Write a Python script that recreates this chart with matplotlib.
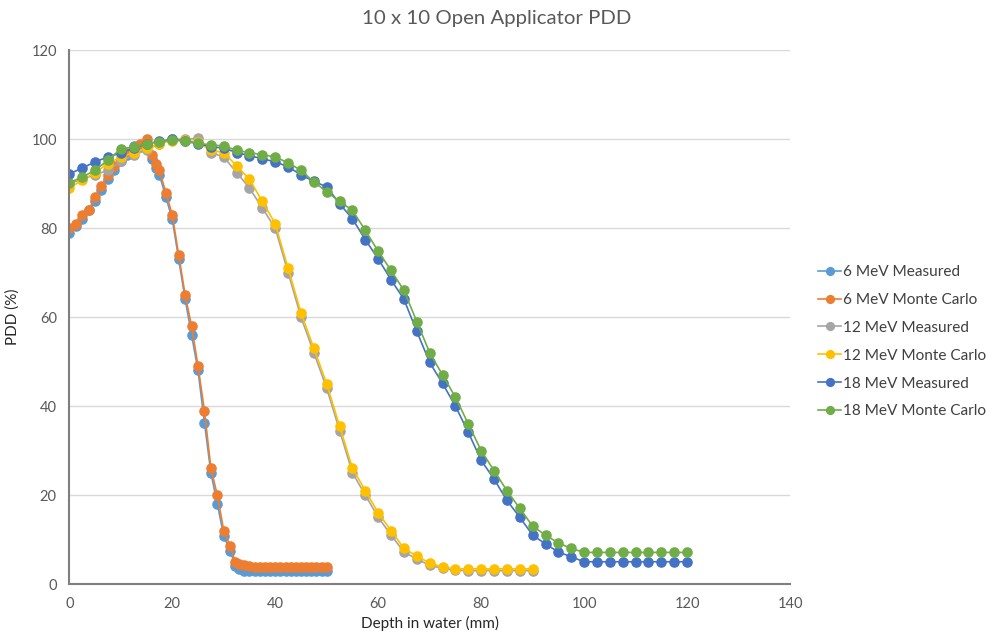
import matplotlib.pyplot as plt

# depth grids (mm)
depth_6 = [0, 1.25, 2.5, 3.75, 5, 6.25, 7.5, 8.75, 10, 11.25, 12.5, 13.75, 15, 16, 16.75,
           17.5, 18.75, 20, 21.25, 22.5, 23.75, 25, 26.25, 27.5, 28.75, 30, 31.25, 32.25, 33,
           34, 35, 36, 37, 38, 39, 40, 41, 42, 43, 44, 45, 46, 47, 48, 49, 50]
depth_12 = [i * 2.5 for i in range(37)]
depth_18 = [i * 2.5 for i in range(49)]

# 6 MeV
pdd_6_meas = [79, 80.5, 82, 84, 86, 88.5, 91, 93, 95, 96.5, 98.5, 98.5, 99, 95.5, 93.5,
              92, 87, 82, 73, 64, 56, 48, 36.3, 25, 18, 10.8, 7.5, 4, 3.3,
              3, 2.9, 2.9, 2.9, 2.9, 2.9, 2.9, 2.9, 2.9, 2.9, 2.9, 2.9, 2.9, 2.9, 2.9, 2.9, 2.9]
pdd_6_mc = [80, 81, 83, 84, 87, 89.5, 92, 94, 95.5, 97, 98, 99, 100, 96.5, 94.5,
            93, 88, 83, 74, 65, 58, 49, 39, 26, 20, 12, 8.5, 5, 4.5,
            4.2, 4, 3.9, 3.9, 3.9, 3.9, 3.9, 3.9, 3.9, 3.9, 3.9, 3.9, 3.9, 3.9, 3.9, 3.9, 3.9]

# 12 MeV
pdd_12_meas = [90, 91, 92, 93, 95, 96.5, 97.5, 99, 100, 100, 100.2, 97, 96, 92.5, 89, 84.5,
               80, 70, 60, 52, 44, 34.5, 25, 20, 15, 11, 7.2, 5.6, 4.2, 3.5, 3.1,
               3, 3, 3, 3, 3, 3]
pdd_12_mc = [89, 90.8, 92.5, 94.5, 96, 97, 98, 99, 99.7, 99.8, 99.3, 97.5, 97, 94, 91, 86,
             81, 71, 61, 53, 45, 35.5, 26, 21, 16, 12, 8, 6.3, 4.7, 3.8, 3.4,
             3.4, 3.4, 3.4, 3.4, 3.4, 3.4]

# 18 MeV
pdd_18_meas = [92.2, 93.5, 94.9, 96, 96.9, 98, 99, 99.5, 100, 99.5, 99, 98.3, 98, 97, 96.3,
               95.6, 94.9, 93.8, 92, 90.5, 89.3, 85.5, 82.1, 77.4, 73.1, 68.4, 64, 56.8, 49.8,
               45.1, 40, 34.1, 27.8, 23.6, 18.8, 15, 11, 9, 7.2, 6.1, 5,
               5, 5, 5, 5, 5, 5, 5, 5]
pdd_18_mc = [90.2, 91.5, 93, 95.3, 97.8, 98.3, 99, 99.4, 99.8, 99.6, 99.1, 98.7, 98.5, 97.5, 97,
             96.5, 96, 94.7, 93, 90.4, 88.2, 86, 84, 79.5, 74.8, 70.5, 66, 59, 52,
             47, 42, 36, 30, 25.5, 21, 17, 13, 11, 9.2, 8, 7.1,
             7.1, 7.1, 7.1, 7.1, 7.1, 7.1, 7.1, 7.1]

series = [
    ('6 MeV Measured', depth_6, pdd_6_meas, '#5B9BD5'),
    ('6 MeV Monte Carlo', depth_6, pdd_6_mc, '#ED7D31'),
    ('12 MeV Measured', depth_12, pdd_12_meas, '#A5A5A5'),
    ('12 MeV Monte Carlo', depth_12, pdd_12_mc, '#FFC000'),
    ('18 MeV Measured', depth_18, pdd_18_meas, '#4472C4'),
    ('18 MeV Monte Carlo', depth_18, pdd_18_mc, '#70AD47'),
]

plt.rcParams['font.family'] = ['Lato', 'DejaVu Sans']

fig = plt.figure(figsize=(9.93, 6.4), dpi=100)
ax = fig.add_axes([0.0698, 0.0875, 0.7258, 0.834])

for label, x, y, colour in series:
    ax.plot(x, y, color=colour, linewidth=1.2, marker='o', markersize=6.6, label=label)

ax.set_xlim(0, 140)
ax.set_ylim(0, 120)
ax.set_xticks(range(0, 141, 20))
ax.set_yticks(range(0, 121, 20))
ax.tick_params(length=0, labelsize=10.5, labelcolor='#595959', pad=9)
ax.grid(axis='y', color='#d9d9d9', linewidth=1)
ax.set_axisbelow(True)
for side in ['top', 'right']:
    ax.spines[side].set_visible(False)
for side in ['left', 'bottom']:
    ax.spines[side].set_color('#7f7f7f')
    ax.spines[side].set_linewidth(1.5)

ax.set_xlabel('Depth in water (mm)', fontsize=11, color='#262626', labelpad=4)
ax.set_ylabel('PDD (%)', fontsize=11, color='#262626', labelpad=8)
fig.suptitle('10 x 10 Open Applicator PDD', x=0.5, y=0.985, fontsize=14.7, color='#595959')

ax.legend(loc='center left', bbox_to_anchor=(0.81, 0.466), bbox_transform=fig.transFigure,
          frameon=False, fontsize=11.1, handlelength=1.5, handletextpad=0.1,
          labelspacing=0.9, labelcolor='#404040', markerscale=0.85)

fig.savefig('out.png', dpi=100)
